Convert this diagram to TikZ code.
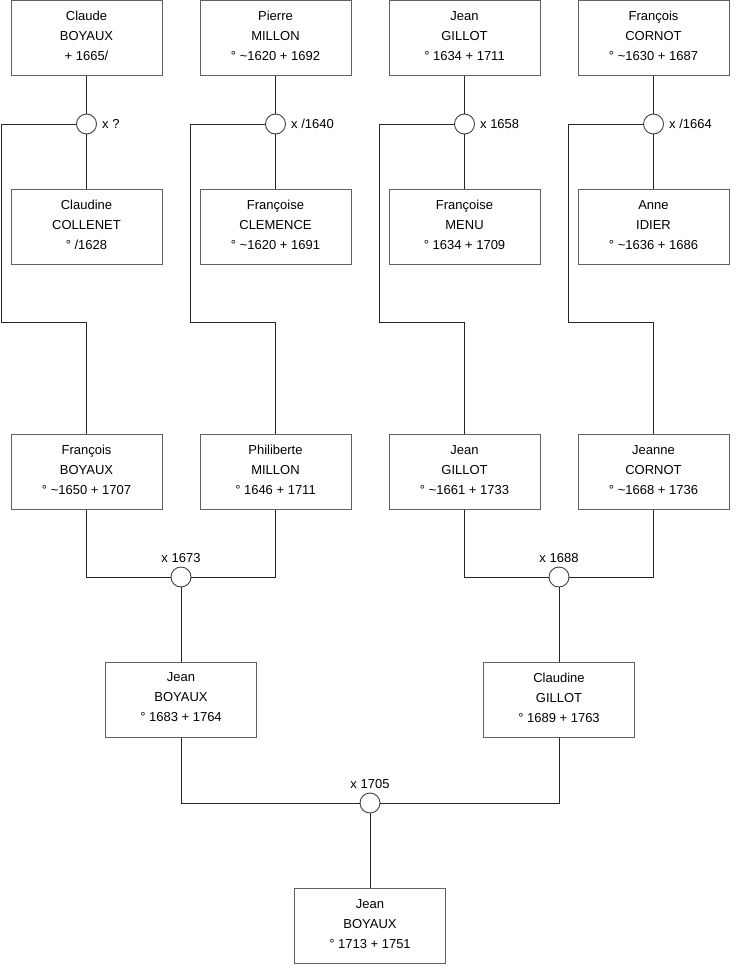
\documentclass[tikz,border=0pt]{standalone}
\usepackage{fontspec}
\setmainfont{Liberation Sans}
\newcommand\persnode[4]{%
  \node[person] (#1) at (#2) {};
  \node[ptext] (#1t) at ([yshift=2pt]#1.center) {#3\\#4};
}
\begin{document}
\begin{tikzpicture}[x=1pt,y=-1pt,
 person/.style={draw=black!62, line width=1pt, fill=white, minimum width=151pt, minimum height=75pt, inner sep=0pt},
 ptext/.style={align=center, font=\fontsize{13}{20}\selectfont, inner sep=0pt},
 union/.style={circle, draw=black!75, line width=0.9pt, fill=white, minimum size=20pt, inner sep=0pt},
 link/.style={draw=black!85, line width=0.9pt},
 lbl/.style={font=\fontsize{13}{15}\selectfont, inner sep=0pt}]
\useasboundingbox (0,0) rectangle (740,975);
% generation 1 - husbands
\persnode{h1}{86.5,38}{Claude\\BOYAUX}{+ 1665/}
\persnode{h2}{275.5,38}{Pierre\\MILLON}{° \textasciitilde1620 + 1692}
\persnode{h3}{464.5,38}{Jean\\GILLOT}{° 1634 + 1711}
\persnode{h4}{653.5,38}{François\\CORNOT}{° \textasciitilde1630 + 1687}
% wives
\persnode{w1}{86.5,227}{Claudine\\COLLENET}{° /1628}
\persnode{w2}{275.5,227}{Françoise\\CLEMENCE}{° \textasciitilde1620 + 1691}
\persnode{w3}{464.5,227}{Françoise\\MENU}{° 1634 + 1709}
\persnode{w4}{653.5,227}{Anne\\IDIER}{° \textasciitilde1636 + 1686}
% unions gen 1
\node[union] (c1) at (86.5,124) {};
\node[union] (c2) at (275.5,124) {};
\node[union] (c3) at (464.5,124) {};
\node[union] (c4) at (653.5,124) {};
\node[lbl, anchor=west] (m1) at ([xshift=5pt]c1.east) {x ?};
\node[lbl, anchor=west] (m2) at ([xshift=5pt]c2.east) {x /1640};
\node[lbl, anchor=west] (m3) at ([xshift=5pt]c3.east) {x 1658};
\node[lbl, anchor=west] (m4) at ([xshift=5pt]c4.east) {x /1664};
% generation 2
\persnode{f1}{86.5,472}{François\\BOYAUX}{° \textasciitilde1650 + 1707}
\persnode{f2}{275.5,472}{Philiberte\\MILLON}{° 1646 + 1711}
\persnode{f3}{464.5,472}{Jean\\GILLOT}{° \textasciitilde1661 + 1733}
\persnode{f4}{653.5,472}{Jeanne\\CORNOT}{° \textasciitilde1668 + 1736}
% connectors gen 1
\coordinate (k1a) at (1.5,124); \coordinate (k1b) at (1.5,322);
\coordinate (k2a) at (190.5,124); \coordinate (k2b) at (190.5,322);
\coordinate (k3a) at (379.5,124); \coordinate (k3b) at (379.5,322);
\coordinate (k4a) at (568.5,124); \coordinate (k4b) at (568.5,322);
\draw[link] (h1.south) -- (c1.north); \draw[link] (c1.south) -- (w1.north);
\draw[link] (h2.south) -- (c2.north); \draw[link] (c2.south) -- (w2.north);
\draw[link] (h3.south) -- (c3.north); \draw[link] (c3.south) -- (w3.north);
\draw[link] (h4.south) -- (c4.north); \draw[link] (c4.south) -- (w4.north);
\draw[link] (c1.west) -- (k1a) -- (k1b) -| (f1.north);
\draw[link] (c2.west) -- (k2a) -- (k2b) -| (f2.north);
\draw[link] (c3.west) -- (k3a) -- (k3b) -| (f3.north);
\draw[link] (c4.west) -- (k4a) -- (k4b) -| (f4.north);
% unions gen 2
\node[union] (c5) at (181,577) {};
\node[union] (c6) at (559,577) {};
\node[lbl, anchor=south] (m5) at ([yshift=4pt]c5.north) {x 1673};
\node[lbl, anchor=south] (m6) at ([yshift=4pt]c6.north) {x 1688};
\draw[link] (f1.south) |- (c5.west);
\draw[link] (f2.south) |- (c5.east);
\draw[link] (f3.south) |- (c6.west);
\draw[link] (f4.south) |- (c6.east);
% generation 3
\persnode{g1}{181,699.5}{Jean\\BOYAUX}{° 1683 + 1764}
\persnode{g2}{559,699.5}{Claudine\\GILLOT}{° 1689 + 1763}
\draw[link] (c5.south) -- (g1.north);
\draw[link] (c6.south) -- (g2.north);
% union gen 3
\node[union] (c7) at (370,803) {};
\node[lbl, anchor=south] (m7) at ([yshift=4pt]c7.north) {x 1705};
\draw[link] (g1.south) |- (c7.west);
\draw[link] (g2.south) |- (c7.east);
% generation 4
\persnode{z}{370,926}{Jean\\BOYAUX}{° 1713 + 1751}
\draw[link] (c7.south) -- (z.north);
\end{tikzpicture}
\end{document}
